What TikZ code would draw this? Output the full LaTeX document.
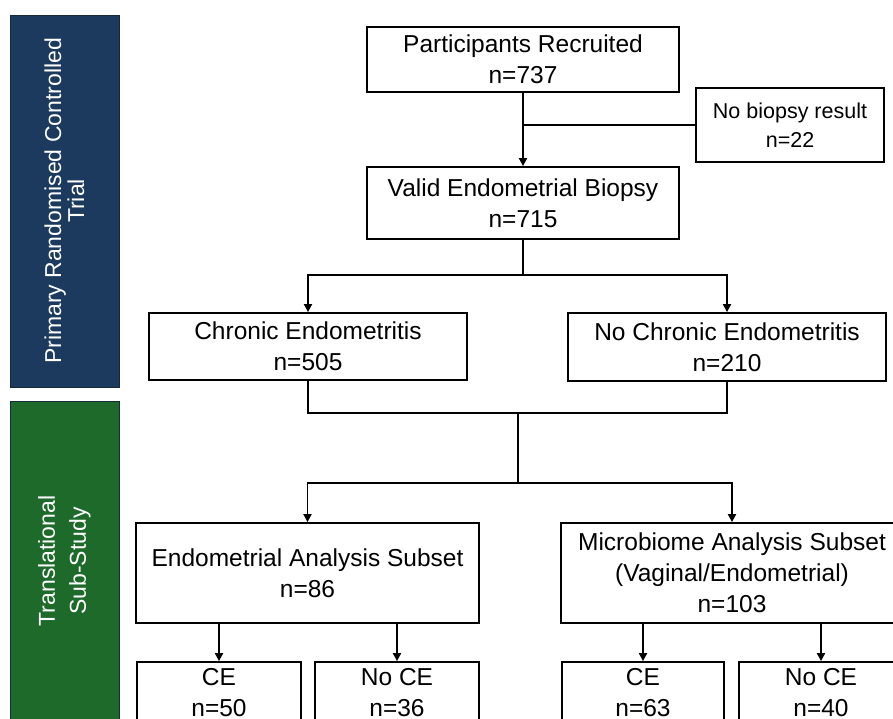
\documentclass[tikz,border=0pt]{standalone}
\usepackage{fontspec}
\setmainfont{Liberation Sans}
\usetikzlibrary{arrows.meta}

\definecolor{trialblue}{HTML}{1B3A5E}
\definecolor{studygreen}{HTML}{1D6A2B}
\definecolor{barline}{HTML}{17293A}

\begin{document}
\begin{tikzpicture}[x=1pt, y=-1pt,
    flowbox/.style={rectangle, draw=black, line width=1.8pt, fill=white, inner sep=0pt, align=center, font=\fontsize{24.5}{31}\selectfont},
    sidebar/.style={rectangle, draw=barline, line width=0.8pt, text=white, inner sep=0pt, align=center, rotate=90},
    flowline/.style={line width=1.8pt},
    flowarrow/.style={line width=1.8pt, -{Triangle[length=8pt, width=8pt]}}]
  \useasboundingbox (0,0) rectangle (893,719);
  \clip (0,0) rectangle (893,719);

  % Side bars
  \node[sidebar, fill=trialblue, minimum width=372pt, minimum height=109pt, font=\fontsize{23}{23}\selectfont] (trialbar) at (64.5,201) {Primary Randomised Controlled\\Trial};
  \node[sidebar, fill=studygreen, minimum width=320pt, minimum height=109pt, font=\fontsize{23}{31}\selectfont] (studybar) at (64.5,561) {Translational\\Sub-Study};

  % Recruitment and biopsy
  \node[flowbox, minimum width=312pt, minimum height=65pt] (recruited) at (523,59.5) {Participants Recruited\\n=737};
  \node[flowbox, minimum width=188pt, minimum height=74pt, font=\fontsize{21.5}{29}\selectfont] (nobiopsy) at (790,125) {No biopsy result\\n=22};
  \node[flowbox, minimum width=312pt, minimum height=72pt] (valid) at (523,203) {Valid Endometrial Biopsy\\n=715};

  % Diagnosis
  \node[flowbox, minimum width=318pt, minimum height=67pt] (chronic) at (308,346.5) {Chronic Endometritis\\n=505};
  \node[flowbox, minimum width=318pt, minimum height=68pt] (nochronic) at (727,347) {No Chronic Endometritis\\n=210};

  % Sub-study subsets
  \node[flowbox, minimum width=343pt, minimum height=100pt] (endo) at (307.5,573) {Endometrial Analysis Subset\\n=86};
  \node[flowbox, minimum width=342pt, minimum height=100pt] (micro) at (732,573) {Microbiome Analysis Subset\\(Vaginal/Endometrial)\\n=103};

  % CE split of each subset
  \node[flowbox, minimum width=164pt, minimum height=62pt] (endoce) at (219,693) {CE\\n=50};
  \node[flowbox, minimum width=164pt, minimum height=62pt] (endonoce) at (397,693) {No CE\\n=36};
  \node[flowbox, minimum width=162pt, minimum height=62pt] (microce) at (643,693) {CE\\n=63};
  \node[flowbox, minimum width=164pt, minimum height=62pt] (micronoce) at (821,693) {No CE\\n=40};

  % Connectors
  \draw[flowarrow] (recruited) -- (valid);
  \coordinate (exclude) at (recruited.south |- nobiopsy.west);
  \draw[flowline] (exclude) -- (nobiopsy.west);

  \coordinate (splitdx) at (523,275);
  \draw[flowline] (valid) -- (splitdx);
  \draw[flowarrow] (splitdx) -| (chronic.north);
  \draw[flowarrow] (splitdx) -| (nochronic.north);

  \coordinate (mergedx) at (518,413);
  \coordinate (splitsub) at (518,483);
  \draw[flowline] (chronic.south) |- (mergedx) -| (nochronic.south);
  \draw[flowline] (mergedx) -- (splitsub);
  \draw[flowarrow] (splitsub) -| (endo.north);
  \draw[flowarrow] (splitsub) -| (micro.north);

  \draw[flowarrow] (endo.south -| endoce.north) -- (endoce.north);
  \draw[flowarrow] (endo.south -| endonoce.north) -- (endonoce.north);
  \draw[flowarrow] (micro.south -| microce.north) -- (microce.north);
  \draw[flowarrow] (micro.south -| micronoce.north) -- (micronoce.north);
\end{tikzpicture}
\end{document}
